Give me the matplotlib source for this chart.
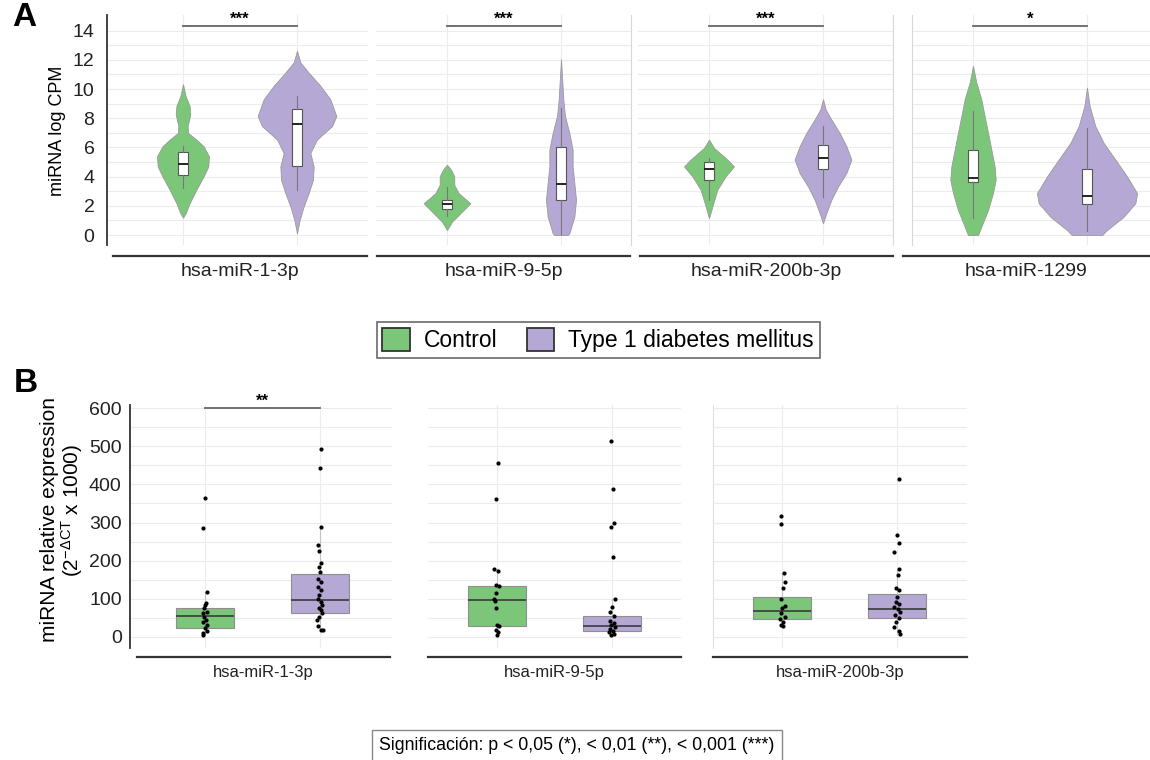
import matplotlib.pyplot as plt
from matplotlib.lines import Line2D
from matplotlib.patches import Patch

plt.rcParams['font.family'] = ['Liberation Sans', 'DejaVu Sans']
plt.rcParams['mathtext.fontset'] = 'custom'
plt.rcParams['mathtext.rm'] = 'Liberation Sans'
plt.rcParams['mathtext.it'] = 'Liberation Sans:italic'
plt.rcParams['mathtext.default'] = 'regular'

GREEN = '#7cc67a'
PURPLE = '#b5a8d5'
GRID = '#ececec'

# ---------------- panel A: miRNA log CPM (violins) ----------------
genes_a = ['hsa-miR-1-3p', 'hsa-miR-9-5p', 'hsa-miR-200b-3p', 'hsa-miR-1299']
stars_a = ['***', '***', '***', '*']

# violin outlines: levels (log CPM) and half-widths (x units)
ctrl_levels = [
    [10.33, 9.52, 8.84, 8.27, 7.46, 7.0, 6.54, 6.08, 5.39, 4.70, 4.02, 3.10, 2.18, 1.49, 1.19],
    [4.82, 4.48, 4.02, 3.44, 2.87, 2.18, 1.49, 0.92, 0.34],
    [6.54, 5.97, 5.17, 4.70, 4.02, 3.10, 1.95, 1.15],
    [11.59, 10.45, 9.3, 8.15, 7.0, 5.85, 4.70, 3.79, 2.87, 1.72, 0.57, 0.0],
]
ctrl_widths = [
    [0, 0.023, 0.058, 0.064, 0.041, 0.044, 0.117, 0.181, 0.228, 0.222, 0.181, 0.117, 0.058, 0.023, 0],
    [0, 0.035, 0.064, 0.064, 0.102, 0.205, 0.117, 0.044, 0],
    [0, 0.044, 0.161, 0.219, 0.146, 0.073, 0.029, 0],
    [0, 0.029, 0.073, 0.102, 0.132, 0.161, 0.190, 0.199, 0.175, 0.132, 0.073, 0.044],
]
t1d_levels = [
    [12.62, 11.83, 11.13, 10.22, 9.3, 8.15, 7.46, 6.54, 5.62, 4.70, 3.78, 2.87, 1.95, 1.03, 0.11],
    [12.05, 10.45, 9.3, 8.15, 7.0, 5.85, 4.70, 3.56, 2.41, 1.26, 0.12, 0.0],
    [9.3, 8.61, 7.92, 7.0, 6.08, 5.17, 4.25, 3.33, 2.41, 1.49, 0.81],
    [10.1, 8.84, 7.46, 6.31, 5.17, 4.02, 2.87, 2.18, 1.26, 0.34, 0.0],
]
t1d_widths = [
    [0, 0.029, 0.102, 0.205, 0.292, 0.345, 0.307, 0.175, 0.117, 0.146, 0.140, 0.102, 0.058, 0.023, 0],
    [0, 0.012, 0.020, 0.035, 0.073, 0.102, 0.102, 0.117, 0.132, 0.117, 0.073, 0.058],
    [0, 0.023, 0.073, 0.146, 0.205, 0.249, 0.205, 0.132, 0.073, 0.029, 0],
    [0, 0.023, 0.073, 0.146, 0.249, 0.351, 0.439, 0.424, 0.322, 0.175, 0.132],
]
# box stats: q1, median, q3, whisker low, whisker high
ctrl_box_a = [[4.1, 4.9, 5.7, 3.2, 6.1], [1.8, 2.1, 2.4, 1.3, 3.3],
              [3.8, 4.5, 5.0, 2.4, 5.3], [3.6, 3.9, 5.85, 1.15, 8.5]]
t1d_box_a = [[4.7, 7.6, 8.6, 3.1, 9.5], [2.4, 3.5, 6.0, 0.1, 8.7],
             [4.5, 5.3, 6.15, 2.6, 7.5], [2.1, 2.7, 4.5, 0.3, 7.35]]

# ---------------- panel B: relative expression (boxes + points) ----------------
genes_b = ['hsa-miR-1-3p', 'hsa-miR-9-5p', 'hsa-miR-200b-3p']
stars_b = ['**', '', '']
ctrl_pts = [
    [364, 286, 116, 89, 83, 74, 64, 61, 52, 43, 39, 30, 22, 15, 10, 4],
    [456, 362, 179, 172, 136, 134, 115, 98, 93, 74, 30, 28, 17, 11, 4],
    [317, 296, 166, 143, 128, 99, 80, 74, 63, 52, 46, 39, 30, 28],
]
ctrl_jit = [
    [0, -0.014, 0.014, 0.009, 0, -0.006, 0.014, -0.014, -0.006, 0.009, -0.014, 0.02, 0, 0.014, -0.02, -0.014],
    [0.009, -0.006, -0.029, 0.006, -0.006, 0.014, -0.006, -0.029, -0.014, -0.006, 0, 0.014, -0.006, 0.009, 0],
    [-0.012, -0.012, 0.014, 0.023, 0.009, -0.012, 0.023, 0.003, -0.006, 0.023, -0.014, 0.009, -0.006, 0.009],
]
t1d_pts = [
    [493, 444, 289, 241, 226, 193, 184, 171, 151, 144, 131, 122, 109, 98, 92, 83, 74, 70, 61, 52, 43, 28, 17, 17],
    [514, 387, 300, 289, 210, 100, 78, 65, 54, 41, 36, 30, 24, 19, 15, 13, 8, 4],
    [414, 267, 246, 223, 179, 162, 127, 122, 105, 92, 86, 78, 72, 65, 57, 48, 39, 24, 15, 8],
]
t1d_jit = [
    [0.012, 0, 0.006, -0.014, -0.009, 0.006, -0.009, -0.003, -0.014, 0.006, -0.014, 0.006,
     -0.009, -0.014, 0.006, 0.02, -0.009, 0.006, 0.014, -0.009, -0.023, -0.014, 0.006, 0.026],
    [-0.009, 0.006, 0.014, -0.009, 0.009, 0.029, 0, -0.014, 0.02, -0.02, 0.014, -0.006,
     0.023, -0.014, 0.006, -0.029, 0.014, -0.006],
    [0.02, 0, 0.02, -0.023, 0.014, 0.006, -0.009, 0.014, 0, -0.009, 0.02, -0.023,
     0.006, 0.026, -0.014, 0.014, -0.009, -0.029, 0.02, 0.026],
]
ctrl_box_b = [[22, 54, 74, 4, 118], [28, 97, 134, 4, 179], [46, 67, 105, 28, 166]]
t1d_box_b = [[63, 96, 164, 17, 289], [15, 28, 54, 4, 100], [50, 72, 112, 8, 179]]

W, H = 1150, 760
fig = plt.figure(figsize=(W / 100, H / 100), dpi=100)


def add_ax(left, top, right, bottom):
    return fig.add_axes([left / W, 1 - bottom / H, (right - left) / W, (bottom - top) / H])


def hline(x0, x1, y, **kw):
    fig.add_artist(Line2D([x0 / W, x1 / W], [1 - y / H, 1 - y / H], transform=fig.transFigure, **kw))


def stats(b):
    return dict(q1=b[0], med=b[1], q3=b[2], whislo=b[3], whishi=b[4], fliers=[])


# ---- panel A layout (pixels)
a_center = [183, 447, 709, 973]
a_left = [107, 376, 638, 912]
a_right = [368, 631, 893, 1150]
a_strip = [(113, 367), (377, 630), (640, 893), (903, 1150)]
a_top, a_bot, a_scale = 15, 245, 114.0

for i, gene in enumerate(genes_a):
    ax = add_ax(a_left[i], a_top, a_right[i], a_bot)
    ax.set_xlim((a_left[i] - a_center[i]) / a_scale, (a_right[i] - a_center[i]) / a_scale)
    ax.set_ylim(-0.68, 15.07)
    ax.set_axisbelow(True)
    ax.set_yticks(range(0, 15, 2))
    ax.set_yticks(range(0, 15), minor=True)
    ax.set_xticks([0, 1])
    ax.grid(True, which='both', color=GRID, lw=0.8)
    ax.tick_params(which='both', length=0, labelbottom=False, labelleft=(i == 0),
                   labelsize=14, pad=9, labelcolor='#222')
    for s in ax.spines.values():
        s.set_visible(False)
    if i == 0:
        ax.spines['left'].set_visible(True)
        ax.spines['left'].set_color('#333')
        ax.spines['left'].set_linewidth(1.3)
    elif i in (1, 2):
        ax.spines['right'].set_visible(True)
        ax.spines['right'].set_color('#d8d8d8')
    else:
        ax.spines['left'].set_visible(True)
        ax.spines['left'].set_color('#d8d8d8')

    for pos, lv, wd, col in [(0, ctrl_levels[i], ctrl_widths[i], GREEN),
                             (1, t1d_levels[i], t1d_widths[i], PURPLE)]:
        ax.fill_betweenx(lv, [pos - w for w in wd], [pos + w for w in wd],
                         facecolor=col, edgecolor='#9a9a9a', lw=0.6, zorder=2)
    ax.bxp([stats(ctrl_box_a[i]), stats(t1d_box_a[i])], positions=[0, 1], widths=0.095,
           showcaps=False, showfliers=False, patch_artist=True, manage_ticks=False,
           boxprops=dict(facecolor='white', edgecolor='#555', linewidth=0.8),
           medianprops=dict(color='#222', linewidth=1.4),
           whiskerprops=dict(color='#777', linewidth=0.8), zorder=3)

    ax.plot([0, 1], [14.3, 14.3], color='#666', lw=1.3, clip_on=False)
    ax.text(0.5, 14.25, stars_a[i], ha='center', va='bottom', fontsize=12, weight='bold')

    x0, x1 = a_strip[i]
    hline(x0, x1, 256, color='#333', lw=1.6)
    fig.text((x0 + x1) / 2 / W, 1 - 272 / H, gene, ha='center', va='center', fontsize=14, color='#222')

fig.text(57 / W, 1 - 131 / H, 'miRNA log CPM', rotation=90, ha='center', va='center', fontsize=13)
fig.text(24 / W, 1 - 18 / H, 'A', ha='center', va='center', fontsize=24, weight='bold')

# ---- legend
handles = [Patch(facecolor=GREEN, edgecolor='#333', lw=1.3, label='Control'),
           Patch(facecolor=PURPLE, edgecolor='#333', lw=1.3, label='Type 1 diabetes mellitus')]
leg = fig.legend(handles=handles, loc='center', bbox_to_anchor=(598 / W, 1 - 340 / H), ncol=2,
                 fontsize=16.5, frameon=True, fancybox=False, edgecolor='#444',
                 handlelength=1.2, handleheight=1.2, columnspacing=1.3, borderpad=0.25,
                 handletextpad=0.6)
leg.get_frame().set_linewidth(1.2)

# ---- panel B layout (pixels)
b_center = [205, 497, 782]
b_left = [130, 428, 713]
b_right = [392, 681, 967]
b_strip = [(137, 390), (428, 681), (713, 967)]
b_top, b_bot, b_scale = 405, 648, 115.0

for i, gene in enumerate(genes_b):
    ax = add_ax(b_left[i], b_top, b_right[i], b_bot)
    ax.set_xlim((b_left[i] - b_center[i]) / b_scale, (b_right[i] - b_center[i]) / b_scale)
    ax.set_ylim(-30, 609)
    ax.set_axisbelow(True)
    ax.set_yticks(range(0, 601, 100))
    ax.set_yticks(range(0, 601, 50), minor=True)
    ax.set_xticks([0, 1])
    ax.grid(True, which='both', color=GRID, lw=0.8)
    ax.tick_params(which='both', length=0, labelbottom=False, labelleft=(i == 0),
                   labelsize=14, pad=6, labelcolor='#222')
    for s in ax.spines.values():
        s.set_visible(False)
    if i == 0:
        ax.spines['left'].set_visible(True)
        ax.spines['left'].set_color('#333')
        ax.spines['left'].set_linewidth(1.3)
    elif i == 2:
        ax.spines['left'].set_visible(True)
        ax.spines['left'].set_color('#e0e0e0')

    for pos, bx, col in [(0, ctrl_box_b[i], GREEN), (1, t1d_box_b[i], PURPLE)]:
        ax.bxp([stats(bx)], positions=[pos], widths=0.5, showcaps=False, showfliers=False,
               patch_artist=True, manage_ticks=False,
               boxprops=dict(facecolor=col, edgecolor='#8f8f8f', linewidth=0.8),
               medianprops=dict(color='#3a3a3a', linewidth=1.2),
               whiskerprops=dict(color='#c4c4c4', linewidth=0.8), zorder=2)
    ax.scatter(ctrl_jit[i], ctrl_pts[i], s=9, color='black', lw=0, zorder=4)
    ax.scatter([1 + j for j in t1d_jit[i]], t1d_pts[i], s=9, color='black', lw=0, zorder=4)

    if stars_b[i]:
        ax.plot([0, 1], [601, 601], color='#666', lw=1.3, clip_on=False)
        ax.text(0.5, 598, stars_b[i], ha='center', va='bottom', fontsize=12, weight='bold')

    x0, x1 = b_strip[i]
    hline(x0, x1, 657, color='#333', lw=1.6)
    fig.text((x0 + x1) / 2 / W, 1 - 672 / H, gene, ha='center', va='center', fontsize=12, color='#222')

fig.text(50 / W, 1 - 520 / H, 'miRNA relative expression', rotation=90, ha='center', va='center', fontsize=15)
fig.text(72 / W, 1 - 510 / H, r'(2$^{-\Delta CT}$ x 1000)', rotation=90, ha='center', va='center', fontsize=15)
fig.text(26 / W, 1 - 384 / H, 'B', ha='center', va='center', fontsize=24, weight='bold')

fig.text(577 / W, 1 - 746 / H, 'Significación: p < 0,05 (*), < 0,01 (**), < 0,001 (***)',
         ha='center', va='center', fontsize=12.8,
         bbox=dict(boxstyle='square,pad=0.4', facecolor='white', edgecolor='#888', lw=1))

fig.savefig('out.png', dpi=100)
